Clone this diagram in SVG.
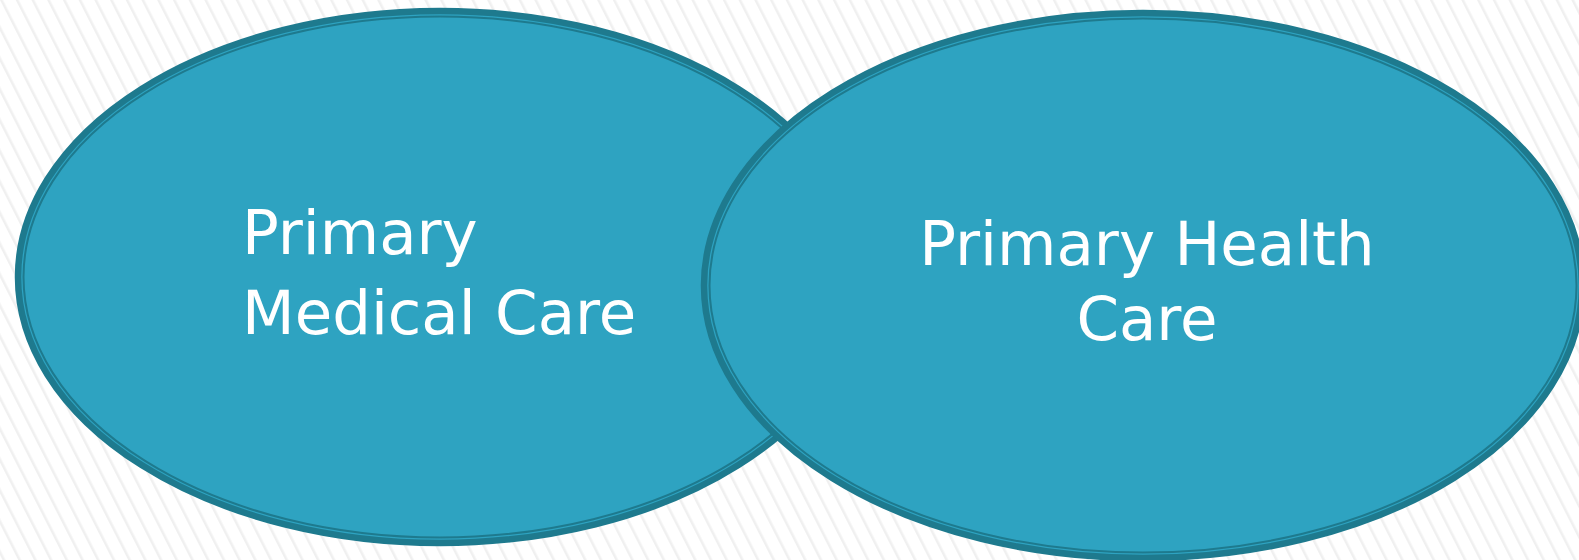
<svg xmlns="http://www.w3.org/2000/svg" width="1579" height="560" viewBox="0 0 1579 560">
  <defs>
    <pattern id="stripes" width="14" height="14" patternUnits="userSpaceOnUse" patternTransform="rotate(-27)">
      <rect width="14" height="14" fill="#ffffff"/>
      <rect x="0" y="0" width="2.5" height="14" fill="#f0f0f0"/>
    </pattern>
  </defs>
  <style>
    .outer { fill: #2ea3c1; stroke: #1e7a8e; stroke-width: 6.5; }
    .inner { fill: none; stroke: #1e7a8e; stroke-width: 2; }
    .label { font-family: "DejaVu Sans", Verdana, sans-serif; font-size: 61px; fill: #ffffff; }
  </style>
  <rect x="0" y="0" width="1579" height="560" fill="url(#stripes)"/>
  <g id="node-primary-medical-care">
    <ellipse class="outer" cx="440" cy="277" rx="422" ry="266"/>
    <ellipse class="inner" cx="440" cy="277" rx="416.5" ry="260.5"/>
    <text class="label" x="242" y="254">Primary</text>
    <text class="label" x="242" y="334">Medical Care</text>
  </g>
  <g id="node-primary-health-care">
    <ellipse class="outer" cx="1143" cy="285.5" rx="439" ry="272.5"/>
    <ellipse class="inner" cx="1143" cy="285.5" rx="433.5" ry="267"/>
    <text class="label" x="1147" y="265" text-anchor="middle">Primary Health</text>
    <text class="label" x="1147" y="340" text-anchor="middle">Care</text>
  </g>
  <g id="connectors"/>
</svg>
